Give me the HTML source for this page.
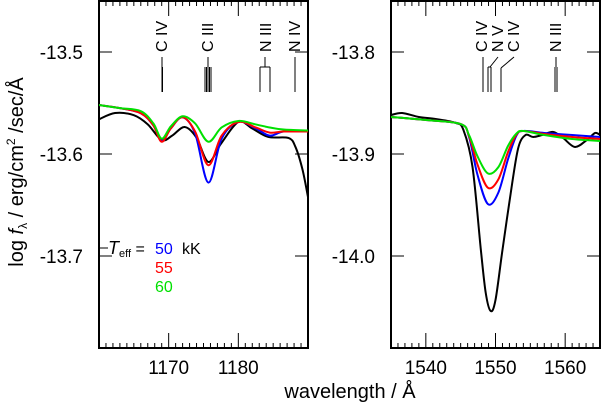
<!DOCTYPE html>
<html><head><meta charset="utf-8"><style>
body{margin:0;background:#fff;}
svg{display:block;font-family:"Liberation Sans",sans-serif;}
</style></head><body>
<svg id="chart" width="601" height="404" viewBox="0 0 601 404">
<g id="layer"></g>
</svg>
<script>
// ---- data ----
const leftXTicks = [1170, 1180];
const leftYTicks = [-13.5, -13.6, -13.7];
const rightXTicks = [1540, 1550, 1560];
const rightYTicks = [-13.8, -13.9, -14.0];
const leftObsWl   = [1160,1162.3,1165,1167,1169,1170.5,1172.3,1174,1175.7,1177.5,1180,1182,1184.3,1187.2,1188.2,1189.2,1190];
const leftObsFlux = [-13.566,-13.5598,-13.562,-13.571,-13.5863,-13.582,-13.5735,-13.584,-13.6078,-13.590,-13.5686,-13.575,-13.5833,-13.5843,-13.5931,-13.615,-13.6422];
const leftModelWl = [1160,1163,1166,1167.8,1169,1170.3,1172,1173.8,1175.7,1177.6,1180,1182.5,1184.5,1186.5,1190];
const leftBlue  = [-13.552,-13.555,-13.560,-13.572,-13.587,-13.575,-13.564,-13.580,-13.628,-13.585,-13.5686,-13.575,-13.582,-13.578,-13.577];
const leftRed   = [-13.552,-13.555,-13.560,-13.572,-13.588,-13.575,-13.564,-13.578,-13.611,-13.582,-13.5686,-13.574,-13.579,-13.578,-13.578];
const leftGreen = [-13.552,-13.555,-13.558,-13.570,-13.585,-13.573,-13.563,-13.570,-13.588,-13.574,-13.5676,-13.571,-13.574,-13.576,-13.577];
const rightObsWl   = [1535,1536.6,1539,1541.4,1544.3,1545.4,1546.7,1547.9,1548.6,1549.3,1550,1551,1552.4,1553.3,1554.3,1555.4,1556.7,1558.3,1559.7,1561.4,1563.1,1564.3,1565];
const rightObsFlux = [-13.8618,-13.8598,-13.8637,-13.8657,-13.8696,-13.8765,-13.9127,-13.9941,-14.0363,-14.0539,-14.0431,-13.9941,-13.9284,-13.8931,-13.8814,-13.8833,-13.8814,-13.8784,-13.8843,-13.8931,-13.8863,-13.8794,-13.8814];
const rightModelWl = [1535,1540,1545,1546.2,1547.4,1548.9,1550.4,1551.8,1553,1554,1557,1561,1565];
const rightBlue  = [-13.8637,-13.8667,-13.8706,-13.8833,-13.920,-13.949,-13.938,-13.905,-13.882,-13.8774,-13.8794,-13.8814,-13.8833];
const rightRed   = [-13.8637,-13.8667,-13.8706,-13.8823,-13.910,-13.933,-13.925,-13.898,-13.881,-13.8774,-13.8804,-13.8833,-13.8853];
const rightGreen = [-13.8637,-13.8667,-13.8706,-13.8814,-13.902,-13.919,-13.913,-13.892,-13.880,-13.8774,-13.8814,-13.8853,-13.8872];
const legendLabels = ["50","55","60"];
const seriesColors = ["#0000ff","#ff0000","#00e000"];

// ---- layout ----
const NS="http://www.w3.org/2000/svg";
const L = document.getElementById('layer');
function mk(tag, attrs, parent){const e=document.createElementNS(NS,tag);for(const k in attrs)e.setAttribute(k,attrs[k]);(parent||L).appendChild(e);return e;}
const panels = [
 {x0:99,x1:308,w0:1160,w1:1190,yTop:1,yBot:348,v52:-13.5,xt:leftXTicks,yt:leftYTicks,name:'left'},
 {x0:391,x1:600,w0:1535,w1:1565,yTop:1,yBot:348,v52:-13.8,xt:rightXTicks,yt:rightYTicks,name:'right'}
];
panels.forEach(p=>{
  p.sx = w=>p.x0+(w-p.w0)/(p.w1-p.w0)*(p.x1-p.x0);
  p.sy = v=>52+(p.v52-v)*1020;
});
function smoothPath(xs,ys){
  let d=`M${xs[0]},${ys[0]}`;
  for(let i=0;i<xs.length-1;i++){
    const x0=xs[Math.max(i-1,0)],y0=ys[Math.max(i-1,0)],x1=xs[i],y1=ys[i],x2=xs[i+1],y2=ys[i+1],x3=xs[Math.min(i+2,xs.length-1)],y3=ys[Math.min(i+2,xs.length-1)];
    d+=` C${x1+(x2-x0)/6},${y1+(y2-y0)/6} ${x2-(x3-x1)/6},${y2-(y3-y1)/6} ${x2},${y2}`;
  }
  return d;
}
function drawSeries(p,wl,fl,color,name){
  const g=mk('g',{'clip-path':`url(#clip-${p.name})`});
  const e=mk('path',{d:smoothPath(wl.map(p.sx),fl.map(p.sy)),fill:'none',stroke:color,'stroke-width':2,'stroke-linejoin':'round'},g);
  
  
}
const defs=mk('defs',{});
panels.forEach(p=>{
  const c=mk('clipPath',{id:'clip-'+p.name},defs);
  mk('rect',{x:p.x0,y:p.yTop,width:p.x1-p.x0,height:p.yBot-p.yTop},c);
});
panels.forEach(p=>{
  for(let w=Math.ceil(p.w0);w<=p.w1;w++){
    const x=p.sx(w), len=(w%10===0)?15:5;
    mk('line',{x1:x,x2:x,y1:p.yBot,y2:p.yBot-len,stroke:'#000','stroke-width':1});
    mk('line',{x1:x,x2:x,y1:p.yTop,y2:p.yTop+len,stroke:'#000','stroke-width':1});
  }
  p.xt.forEach(w=>{
    const t=mk('text',{x:p.sx(w),y:374,'font-size':19,'text-anchor':'middle'});t.textContent=w;
    
    
  });
  p.yt.forEach(v=>{
    const y=p.sy(v);
    mk('line',{x1:p.x0,x2:p.x0+13,y1:y,y2:y,stroke:'#000'});
    mk('line',{x1:p.x1,x2:p.x1-13,y1:y,y2:y,stroke:'#000'});
    const t=mk('text',{x:p.x0-16,y:y+7,'font-size':19,'text-anchor':'end'});t.textContent=v.toFixed(1);
    
    
  });
  const fr=mk('rect',{x:p.x0,y:p.yTop,width:p.x1-p.x0,height:p.yBot-p.yTop,fill:'none',stroke:'#000','stroke-width':2});
  
  
});
const P0=panels[0],P1=panels[1];
drawSeries(P0,leftObsWl,leftObsFlux,'#000','left-observed');
drawSeries(P0,leftModelWl,leftBlue,seriesColors[0],'left-model-50kK');
drawSeries(P0,leftModelWl,leftRed,seriesColors[1],'left-model-55kK');
drawSeries(P0,leftModelWl,leftGreen,seriesColors[2],'left-model-60kK');
drawSeries(P1,rightObsWl,rightObsFlux,'#000','right-observed');
drawSeries(P1,rightModelWl,rightBlue,seriesColors[0],'right-model-50kK');
drawSeries(P1,rightModelWl,rightRed,seriesColors[1],'right-model-55kK');
drawSeries(P1,rightModelWl,rightGreen,seriesColors[2],'right-model-60kK');

function lbl(x,txt){const t=mk('text',{transform:`translate(${x+6},52) rotate(-90)`,'font-size':16});t.textContent=txt;
  
  }
function ln(x1,y1,x2,y2){mk('line',{x1,y1,x2,y2,stroke:'#000','stroke-width':1});}
lbl(161,'C IV'); ln(162,57,162,92); ln(162.5,67,162.5,92);
lbl(207,'C III'); ln(208,57,208,67); [205,206.5,208,209.5,211].forEach(x=>ln(x,67,x,92));
lbl(265,'N III'); ln(265,57,265,67); ln(260,67,270,67); ln(260,67,260,92); ln(270,67,270,92);
lbl(294,'N IV'); ln(295,57,295,92);
lbl(481,'C IV'); ln(483,57,483,92);
lbl(497,'N V'); ln(498,57,490,67); ln(488,67,491,67); ln(488,67,488,92); ln(491,67,491,92);
lbl(513,'C IV'); ln(514,57,501,68); ln(501,68,501,92);
lbl(555,'N III'); ln(556,57,556,67); ln(555,67,555,92); ln(557,67,557,92);

ln(100,248,108,248);
const lg=mk('text',{x:108,y:254,'font-size':16});
lg.innerHTML='<tspan font-style="italic" font-size="18">T</tspan><tspan font-size="11" dy="3">eff</tspan><tspan dy="-3"> = </tspan>';


legendLabels.forEach((s,i)=>{
  const t=mk('text',{x:155,y:254+i*19,'font-size':16,fill:seriesColors[i]});t.textContent=s;
  
  
});
const kk=mk('text',{x:182,y:254,'font-size':16});kk.textContent='kK';



const xt=mk('text',{x:350,y:398,'font-size':20,'text-anchor':'middle'});xt.textContent='wavelength / Å';


const yt=mk('text',{transform:'translate(23,172) rotate(-90)','font-size':20,'text-anchor':'middle'});
yt.innerHTML='log <tspan font-style="italic">f</tspan><tspan font-size="12" dy="4">λ</tspan><tspan dy="-4"> / erg/cm</tspan><tspan font-size="12" dy="-8">2</tspan><tspan dy="8"> /sec/Å</tspan>';


</script>
</body></html>
